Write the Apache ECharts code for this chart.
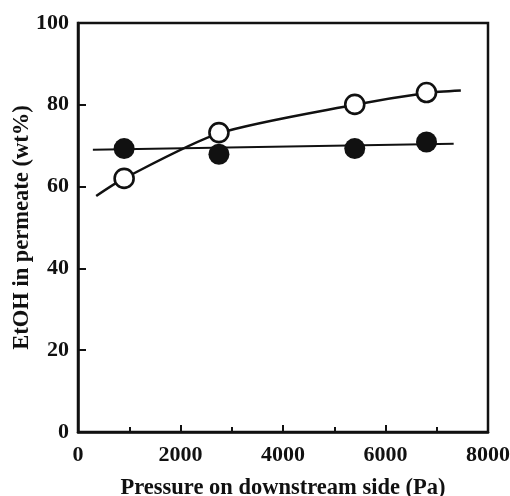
<!DOCTYPE html>
<html><head><meta charset="utf-8">
<script src="https://cdn.jsdelivr.net/npm/echarts@6/dist/echarts.min.js"></script>
<style>html,body{margin:0;padding:0;background:#fff}#c{width:510px;height:496px}</style>
</head><body><div id="c"></div>
<script>
const pressure = [900, 2750, 5400, 6800];
const openVals = [62.0, 73.2, 80.1, 83.0];
const filledVals = [69.3, 67.9, 69.3, 70.9];
const openFitX = [355, 900, 2750, 5400, 6800, 7470];
const openFitY = [57.7, 62.0, 73.0, 80.0, 82.9, 83.5];
const filledFitX = [290, 7330];
const filledFitY = [69.0, 70.5];
const xTicks = [0, 2000, 4000, 6000, 8000];
const yTicks = [0, 20, 40, 60, 80, 100];

const zip = (a, b) => a.map((v, i) => [v, b[i]]);
const font = '"Liberation Serif", "Times New Roman", serif';
const chart = echarts.init(document.getElementById('c'), null, {renderer: 'canvas'});
chart.setOption({
  animation: false,
  backgroundColor: '#fff',
  grid: {left: 78, right: 22, top: 23, bottom: 64, containLabel: false, outerBoundsMode: 'none',
    show: true, borderColor: '#111', borderWidth: 2.5, backgroundColor: 'transparent'},
  xAxis: {
    type: 'value', min: 0, max: 8000, interval: 2000,
    name: 'Pressure on downstream side (Pa)', nameLocation: 'middle', nameGap: 45,
    nameMoveOverlap: false,
    nameTextStyle: {fontFamily: font, fontWeight: 'bold', fontSize: 22.5, color: '#111'},
    axisLine: {show: true, lineStyle: {color: '#111', width: 2.5}},
    axisTick: {show: true, inside: true, length: 7, lineStyle: {color: '#111', width: 2}},
    minorTick: {show: true, splitNumber: 2, length: 5, lineStyle: {color: '#111', width: 2}},
    splitLine: {show: false},
    axisLabel: {fontFamily: font, fontWeight: 'bold', fontSize: 22, color: '#111', margin: 12,
      formatter: v => xTicks.includes(v) ? String(v) : ''}
  },
  yAxis: {
    type: 'value', min: 0, max: 100, interval: 20,
    name: 'EtOH in permeate (wt%)', nameLocation: 'middle', nameGap: 44,
    nameMoveOverlap: false,
    nameTextStyle: {fontFamily: font, fontWeight: 'bold', fontSize: 22.5, color: '#111'},
    axisLine: {show: true, lineStyle: {color: '#111', width: 2.5}},
    axisTick: {show: true, inside: true, length: 8, lineStyle: {color: '#111', width: 2}},
    splitLine: {show: false},
    axisLabel: {fontFamily: font, fontWeight: 'bold', fontSize: 22, color: '#111', margin: 9,
      formatter: v => yTicks.includes(v) ? String(v) : ''}
  },
  series: [
    {type: 'line', data: zip(filledFitX, filledFitY), showSymbol: false, symbol: 'none',
     lineStyle: {color: '#111', width: 2}, z: 1},
    {type: 'line', data: zip(openFitX, openFitY), showSymbol: false, symbol: 'none', smooth: 0.25,
     lineStyle: {color: '#111', width: 2.5}, z: 1},
    {type: 'scatter', data: zip(pressure, filledVals), symbol: 'circle', symbolSize: 21,
     itemStyle: {color: '#111', opacity: 1}, z: 3},
    {type: 'scatter', data: zip(pressure, openVals), symbol: 'circle', symbolSize: 19,
     itemStyle: {color: '#fff', borderColor: '#111', borderWidth: 2.6, opacity: 1}, z: 4}
  ]
});
</script></body></html>
